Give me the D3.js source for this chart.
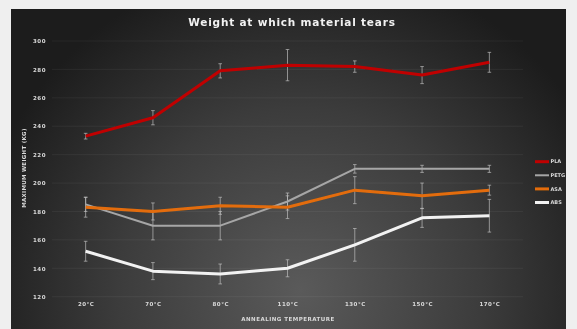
<!DOCTYPE html>
<html>
<head>
<meta charset="utf-8">
<script src="https://cdn.jsdelivr.net/npm/d3@7"></script>
<style>
  html, body { margin: 0; padding: 0; background: #efefef; }
  svg { display: block; }
  text { font-family: "DejaVu Sans", sans-serif; }
</style>
</head>
<body>
<svg id="chart" width="577" height="329"></svg>
<script>
// Annealing temperatures (x categories)
const temperatures = ["20°C", "70°C", "80°C", "110°C", "130°C", "150°C", "170°C"];
const yTicks = [120, 140, 160, 180, 200, 220, 240, 260, 280, 300];

// Mean tear weight per material and its error (±)
const plaValues  = [233, 246, 279, 283, 282, 276, 285];
const plaErr     = [2, 5, 5, 11, 4, 6, 7];
const petgValues = [185, 170, 170, 187, 210, 210, 210];
const petgErr    = [5, 10, 10, 6, 3, 2.5, 2.5];
const asaValues  = [183, 180, 184, 183, 195, 191, 195];
const asaErr     = [7, 6, 6, 8, 9.5, 9, 3.5];
const absValues  = [152, 138, 136, 140, 156.5, 175.5, 177];
const absErr     = [7, 6, 7, 6, 11.5, 6.7, 11.5];

const series = [
  { name: "PLA",  values: plaValues,  err: plaErr,  color: "#c00000", width: 3 },
  { name: "PETG", values: petgValues, err: petgErr, color: "#a6a6a6", width: 2 },
  { name: "ASA",  values: asaValues,  err: asaErr,  color: "#e36c0a", width: 3 },
  { name: "ABS",  values: absValues,  err: absErr,  color: "#f2f2f2", width: 3 }
];

const svg = d3.select("#chart");
const defs = svg.append("defs");
const grad = defs.append("radialGradient")
  .attr("id", "panelBg")
  .attr("gradientUnits", "userSpaceOnUse")
  .attr("cx", 300).attr("cy", 290).attr("r", 330);
grad.append("stop").attr("offset", "0%").attr("stop-color", "#5a5a5a");
grad.append("stop").attr("offset", "55%").attr("stop-color", "#3c3c3c");
grad.append("stop").attr("offset", "100%").attr("stop-color", "#1c1c1c");

const blur = defs.append("filter").attr("id", "soft");
blur.append("feGaussianBlur").attr("stdDeviation", 0.55);

// Dark chart panel
svg.append("rect")
  .attr("x", 11).attr("y", 9).attr("width", 555).attr("height", 320)
  .attr("fill", "url(#panelBg)");

const plot = { left: 52, right: 523, top: 41, bottom: 296.7 };

const x = d3.scalePoint().domain(temperatures)
  .range([plot.left, plot.right]).padding(0.5);
const y = d3.scaleLinear().domain([120, 300]).range([plot.bottom, plot.top]);

const g = svg.append("g").attr("filter", "url(#soft)");

const smallText = sel => sel
  .attr("fill", "#d9d9d9")
  .style("font-size", "5.5px")
  .style("font-weight", "bold")
  .style("letter-spacing", "0.5px");

// Horizontal gridlines
g.append("g").selectAll("line").data(yTicks).join("line")
  .attr("x1", plot.left).attr("x2", plot.right)
  .attr("y1", d => y(d)).attr("y2", d => y(d))
  .attr("stroke", "#ffffff").attr("stroke-opacity", 0.05).attr("stroke-width", 1);

// Y axis tick labels
const yAxis = d3.axisLeft(y).tickValues(yTicks).tickSize(0).tickPadding(0);
g.append("g").attr("transform", `translate(${plot.left - 6},0)`).call(yAxis)
  .call(s => s.select(".domain").remove())
  .selectAll("text").call(smallText);

// X axis tick labels
const xAxis = d3.axisBottom(x).tickSize(0).tickPadding(0);
g.append("g").attr("transform", `translate(0,${plot.bottom + 5})`).call(xAxis)
  .call(s => s.select(".domain").remove())
  .selectAll("text").call(smallText);

// Error bars
series.forEach(s => {
  const eb = g.append("g").attr("stroke", "#bfbfbf").attr("stroke-width", 0.8).attr("stroke-opacity", 0.85);
  temperatures.forEach((t, i) => {
    const cx = x(t), lo = y(s.values[i] - s.err[i]), hi = y(s.values[i] + s.err[i]);
    eb.append("line").attr("x1", cx).attr("x2", cx).attr("y1", lo).attr("y2", hi);
    eb.append("line").attr("x1", cx - 1.8).attr("x2", cx + 1.8).attr("y1", lo).attr("y2", lo);
    eb.append("line").attr("x1", cx - 1.8).attr("x2", cx + 1.8).attr("y1", hi).attr("y2", hi);
  });
});

// Series lines
const line = d3.line().x((d, i) => x(temperatures[i])).y(d => y(d));
series.forEach(s => {
  g.append("path").datum(s.values)
    .attr("d", line)
    .attr("fill", "none")
    .attr("stroke", s.color)
    .attr("stroke-width", s.width)
    .attr("stroke-linejoin", "round");
});

// Legend
const legend = g.append("g");
series.forEach((s, i) => {
  const ly = 161.7 + i * 13.6;
  legend.append("line").attr("x1", 535).attr("x2", 549).attr("y1", ly).attr("y2", ly)
    .attr("stroke", s.color).attr("stroke-width", s.width);
  legend.append("text").attr("x", 550.5).attr("y", ly).attr("dy", "0.35em")
    .call(smallText).style("font-size", "5px").style("letter-spacing", "0px")
    .text(s.name);
});

// Titles
g.append("text").attr("x", 292).attr("y", 26).attr("text-anchor", "middle")
  .attr("fill", "#f2f2f2").style("font-size", "10.5px").style("font-weight", "bold")
  .style("letter-spacing", "0.8px")
  .text("Weight at which material tears");

g.append("text").attr("x", 288).attr("y", 321).attr("text-anchor", "middle")
  .call(smallText)
  .text("ANNEALING TEMPERATURE");

g.append("text")
  .attr("transform", "translate(26,168) rotate(-90)")
  .attr("text-anchor", "middle")
  .call(smallText).style("letter-spacing", "0.3px")
  .text("MAXIMUM WEIGHT (KG)");
</script>
</body>
</html>
